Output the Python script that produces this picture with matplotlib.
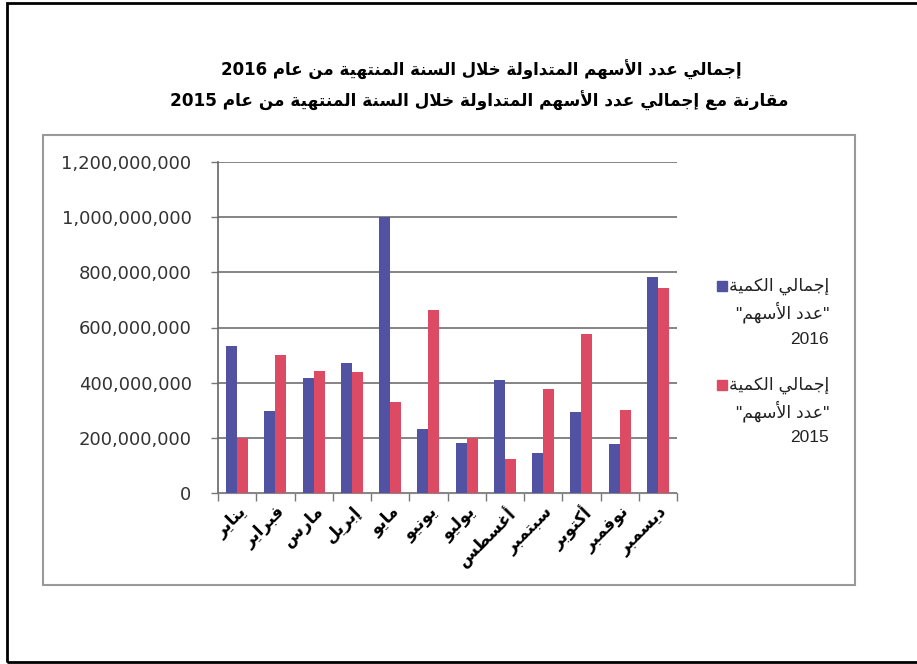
import re
import numpy as np
import matplotlib
matplotlib.use("Agg")
import matplotlib.pyplot as plt
from matplotlib.patches import Rectangle
from matplotlib.ticker import FuncFormatter

months = ["يناير", "فبراير", "مارس", "إبريل", "مايو", "يونيو",
          "يوليو", "أغسطس", "سبتمبر", "أكتوبر", "نوفمبر", "ديسمبر"]
vals_2016 = [532e6, 299e6, 416e6, 472e6, 1000e6, 231e6,
             181e6, 410e6, 145e6, 293e6, 177e6, 783e6]
vals_2015 = [199e6, 499e6, 442e6, 437e6, 329e6, 665e6,
             201e6, 123e6, 377e6, 575e6, 301e6, 745e6]
title_1 = "إجمالي عدد الأسهم المتداولة خلال السنة المنتهية من عام 2016"
title_2 = "مقارنة مع إجمالي عدد الأسهم المتداولة خلال السنة المنتهية من عام 2015"
legend_lines = ["إجمالي الكمية", '"عدد الأسهم"']
years = ["2016", "2015"]
yticks = [0, 200e6, 400e6, 600e6, 800e6, 1000e6, 1200e6]

# --- tiny arabic shaper (presentation forms + visual order) ---
letters = "ءآأؤإئابةتثجحخدذرزسشصضطظعغفقكلمنهوىي"
nforms = [1, 2, 2, 2, 2, 4, 2, 4, 2, 4, 4, 4, 4, 4, 2, 2, 2, 2, 4, 4, 4, 4,
          4, 4, 4, 4, 4, 4, 4, 4, 4, 4, 4, 2, 2, 4]
forms = {}
code = 0xFE80
for ch, n in zip(letters, nforms):
    forms[ch] = (code, n)
    code += n
lam_alef = {"آ": 0xFEF5, "أ": 0xFEF7, "إ": 0xFEF9, "ا": 0xFEFB}


def shape(s):
    out = []
    i = 0
    while i < len(s):
        ch = s[i]
        if ch not in forms:
            out.append(ch)
            i += 1
            continue
        prev = s[i - 1] if i > 0 else ""
        nxt = s[i + 1] if i + 1 < len(s) else ""
        pj = prev in forms and forms[prev][1] == 4 and forms[ch][1] >= 2
        if ch == "ل" and nxt in lam_alef:
            out.append(chr(lam_alef[nxt] + (1 if pj else 0)))
            i += 2
            continue
        base, n = forms[ch]
        nj = n == 4 and nxt in forms and forms[nxt][1] >= 2
        f = 3 if (pj and nj) else 2 if nj else 1 if pj else 0
        out.append(chr(base + f))
        i += 1
    return "".join(out)


def ar(s):
    runs = re.findall(r"[0-9A-Za-z.,]+|[^0-9A-Za-z.,]+", shape(s))
    return "".join(r if re.match(r"[0-9A-Za-z]", r) else r[::-1]
                   for r in reversed(runs))


plt.rcParams["font.family"] = ["DejaVu Sans"]

blue = "#5252A3"
red = "#DC4A63"
W, H = 917, 664

fig = plt.figure(figsize=(W / 100, H / 100), dpi=100)
ax = fig.add_axes([218 / W, 1 - 493 / H, (677 - 218) / W, (493 - 162) / H])

x = np.arange(len(months))
bw = 0.29
ax.bar(x - bw / 2, vals_2016, bw, color=blue, zorder=3)
ax.bar(x + bw / 2, vals_2015, bw, color=red, zorder=3)

ax.set_xlim(-0.5, len(months) - 0.5)
ax.set_ylim(0, 1200e6)
ax.set_yticks(yticks)
ax.yaxis.set_major_formatter(FuncFormatter(lambda v, p: f"{int(v):,}"))
ax.tick_params(axis="y", length=5, width=1, color="#777777", pad=14,
               labelsize=13, labelcolor="#333333")
ax.grid(axis="y", color="#707070", linewidth=1.2, zorder=0)

# labels on major ticks (centres), boundary marks as minor ticks
ax.set_xticks(x)
ax.set_xticklabels([ar(m) for m in months], rotation=45, ha="right",
                   va="top", rotation_mode="anchor", fontsize=12,
                   fontweight="bold")
ax.tick_params(axis="x", which="major", length=0, pad=7)
ax.set_xticks(np.arange(len(months) + 1) - 0.5, minor=True)
ax.tick_params(axis="x", which="minor", length=6, width=1, color="#777777")

for side in ["top", "right"]:
    ax.spines[side].set_visible(False)
ax.spines["left"].set_color("#666666")
ax.spines["bottom"].set_color("#888888")
ax.spines["left"].set_linewidth(1.2)

# titles
fig.text(481 / W, 1 - 70 / H, ar(title_1), ha="center", va="center",
         fontsize=12, fontweight="bold")
fig.text(479 / W, 1 - 101 / H, ar(title_2), ha="center", va="center",
         fontsize=12.2, fontweight="bold")

# legend
for k, (col, yr) in enumerate(zip([blue, red], years)):
    y0 = 286 + k * 99
    fig.patches.append(Rectangle((717 / W, 1 - (y0 + 5) / H), 10 / W, 10 / H,
                                 transform=fig.transFigure, color=col))
    rows = [ar(legend_lines[0]), ar(legend_lines[1]), yr]
    for j, t in enumerate(rows):
        fig.text(829 / W, 1 - (y0 + j * 26.5) / H, t, ha="right", va="center",
                 fontsize=12.5, family=["Liberation Sans", "DejaVu Sans"],
                 color="#222222")

# chart area box and outer frame
fig.patches.append(Rectangle((43 / W, 1 - 585 / H), (855 - 43) / W, (585 - 135) / H,
                             transform=fig.transFigure, fill=False,
                             edgecolor="#999999", linewidth=1.5))
fig.patches.append(Rectangle((7 / W, 1 - 662 / H), 1.0, (662 - 3) / H,
                             transform=fig.transFigure, fill=False,
                             edgecolor="black", linewidth=2))

fig.savefig("out.png", dpi=100)
